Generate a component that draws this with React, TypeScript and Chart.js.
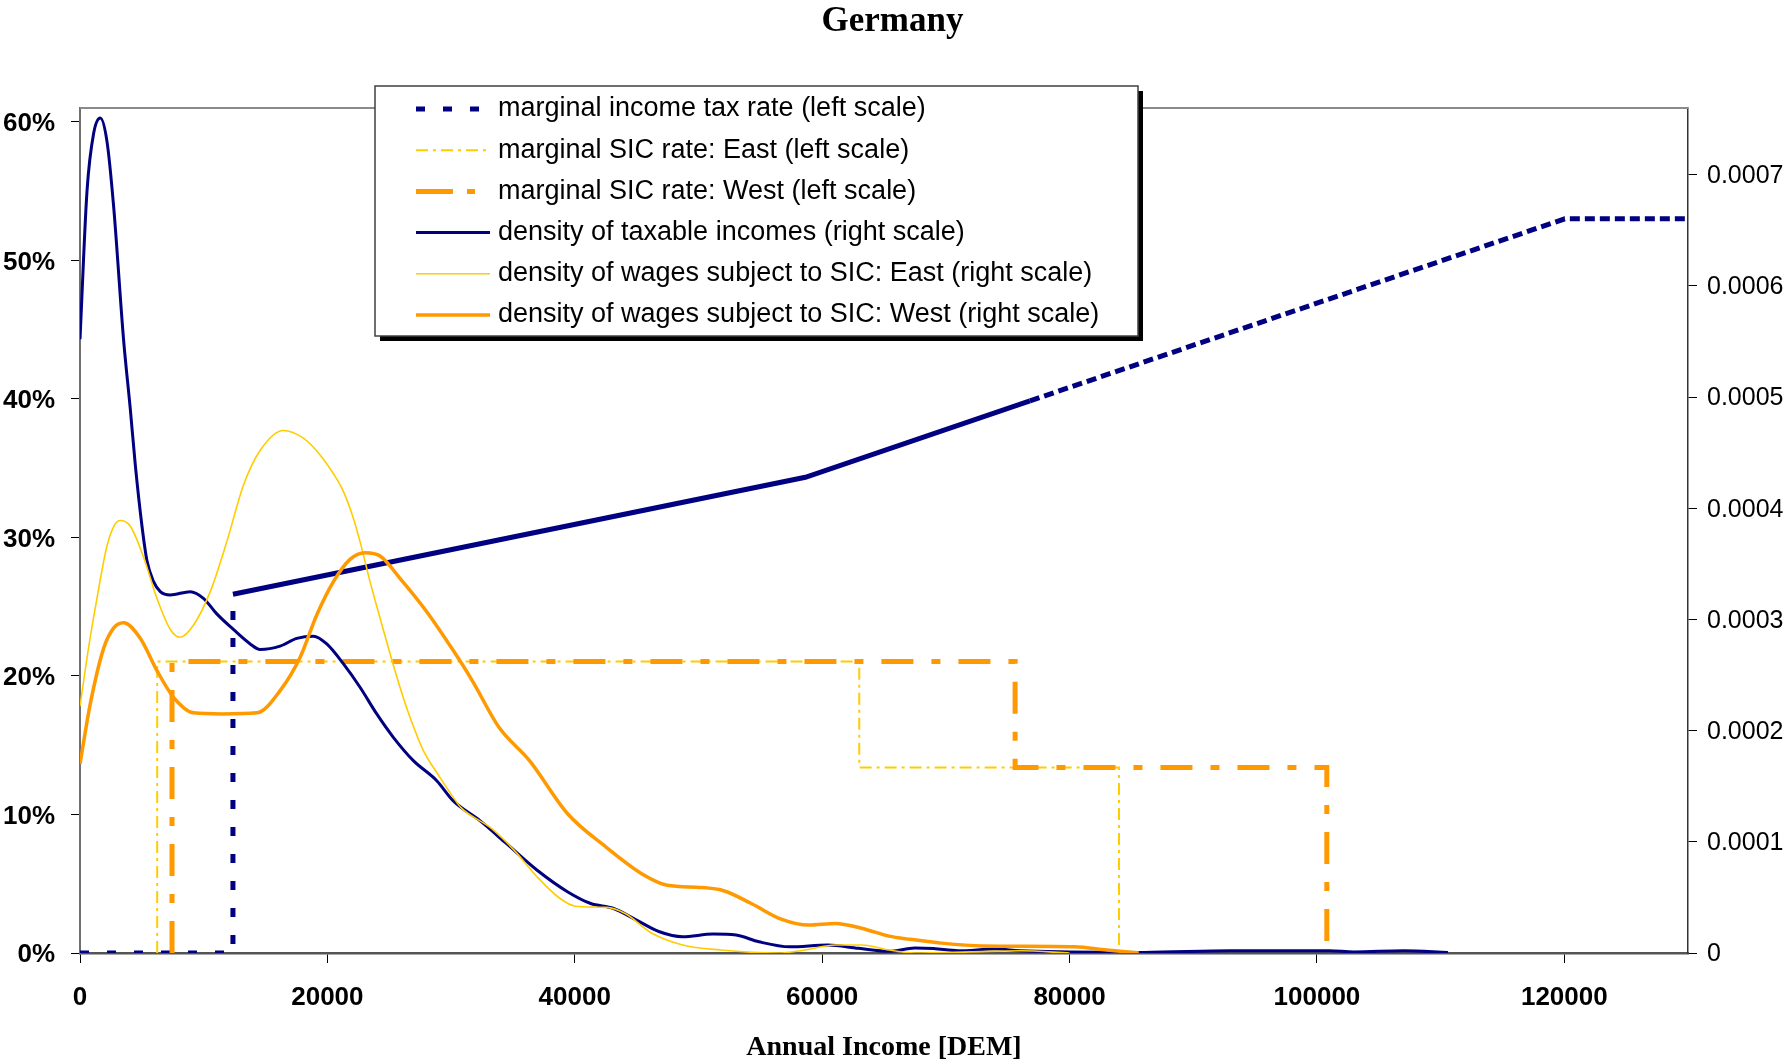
import React, { useEffect, useRef } from 'react';
import { Chart, registerables } from 'chart.js';

Chart.register(...registerables);

const CANVAS_W = 1785;
const CANVAS_H = 1060;

const chartTitle = 'Germany';
const xAxisTitle = 'Annual Income [DEM]';
const seriesLabels = [
  'marginal income tax rate (left scale)',
  'marginal SIC rate: East (left scale)',
  'marginal SIC rate: West (left scale)',
  'density of taxable incomes (right scale)',
  'density of wages subject to SIC: East (right scale)',
  'density of wages subject to SIC: West (right scale)',
];

const xTickValues = [0, 20000, 40000, 60000, 80000, 100000, 120000];
const leftTickValues = [0, 0.1, 0.2, 0.3, 0.4, 0.5, 0.6];
const rightTickValues = [0, 0.0001, 0.0002, 0.0003, 0.0004, 0.0005, 0.0006, 0.0007];

// marginal income tax rate (left scale)
const taxIncome = [0, 12365, 12365, 58643, 76800, 120041, 130000];
const taxRate = [0, 0, 0.259, 0.3434, 0.3986, 0.53, 0.53];

// marginal SIC rate East (left scale)
const sicEastIncome = [6240, 6240, 63000, 63000, 84000, 84000];
const sicEastRate = [0, 0.2105, 0.2105, 0.134, 0.134, 0];

// marginal SIC rate West (left scale)
const sicWestIncome = [7440, 7440, 75600, 75600, 100800, 100800];
const sicWestRate = [0, 0.2105, 0.2105, 0.134, 0.134, 0];

// density of taxable incomes (right scale)
const taxableIncome = [
  0, 565, 1100, 1640, 2180, 2715, 3520, 4060, 4470, 5010, 5410, 5950, 6490, 7300, 8910, 9980,
  11060, 12400, 13760, 14560, 16180, 17530, 18870, 19950, 21300, 22640, 23990, 25330, 26950,
  28840, 30160, 32330, 34490, 36960, 39440, 41290, 43140, 45000, 46850, 48710, 51180, 53040,
  54890, 57370, 60450, 62930, 65400, 67500, 69000, 71000, 74000, 76000, 80000, 86000, 93000,
  101000, 103000, 107000, 110600,
];
const taxableDensity = [
  0.000552, 0.000685, 0.000737, 0.000751, 0.00073, 0.000672, 0.000552, 0.00049, 0.000439,
  0.000384, 0.000353, 0.000334, 0.000325, 0.000322, 0.000325, 0.000319, 0.000305, 0.000291,
  0.000278, 0.000273, 0.000276, 0.000283, 0.000285, 0.000278, 0.00026, 0.000239, 0.000215,
  0.000194, 0.000173, 0.000155, 0.000137, 0.000119, 0.0000983, 0.0000744, 0.0000549,
  0.0000445, 0.00004, 0.0000296, 0.0000191, 0.0000146, 0.000017, 0.0000161, 0.0000101,
  0.0000056, 0.0000072, 0.0000042, 0.0000015, 0.0000045, 0.000004, 0.000002, 0.0000036,
  0.000002, 0.000001, 0.0000005, 0.000002, 0.000002, 0.000001, 0.000002, 0.0000005,
];

// density of wages subject to SIC: East (right scale)
const eastWage = [
  0, 700, 1370, 2180, 2800, 3260, 4060, 5140, 6220, 7300, 8100, 9180, 10530, 11870, 13220, 14560,
  16450, 18060, 19410, 20490, 21300, 22100, 22640, 23450, 24260, 25070, 25870, 26680, 27760,
  29100, 30180, 30780, 33260, 35110, 36960, 38810, 40050, 42530, 44070, 46240, 48710, 51800,
  56440, 58600, 61080, 63240, 65400, 67500, 72000, 76000, 80000,
];
const eastDensity = [
  0.000222, 0.000275, 0.000319, 0.000366, 0.000385, 0.000389, 0.000384, 0.000356, 0.000319,
  0.000291, 0.000284, 0.000295, 0.000325, 0.00037, 0.000421, 0.000452, 0.00047, 0.000463,
  0.000448, 0.000431, 0.000415, 0.000391, 0.00037, 0.000334, 0.000301, 0.000269, 0.000239,
  0.000212, 0.000182, 0.000158, 0.00014, 0.000131, 0.000112, 0.0000923, 0.0000684, 0.000049,
  0.0000421, 0.000041, 0.0000356, 0.0000177, 0.0000072, 0.0000027, 0, 0.0000027, 0.0000072,
  0.0000072, 0.0000027, 0, 0.000001, 0.000002, 0,
];

// density of wages subject to SIC: West (right scale)
const westWage = [
  0, 830, 1910, 2700, 3520, 4870, 6220, 7560, 9180, 11500, 14320, 16180, 17800, 19140, 20490,
  21830, 23050, 24260, 25870, 28030, 30180, 31710, 33870, 36340, 39440, 42530, 45620, 47470,
  50250, 52100, 54270, 56740, 58910, 61080, 63240, 65400, 67100, 69370, 72940, 80400, 83000,
  85600,
];
const westDensity = [
  0.00017, 0.000224, 0.000274, 0.000292, 0.000297, 0.000283, 0.000254, 0.00023, 0.000216,
  0.000215, 0.000216, 0.000236, 0.000266, 0.000304, 0.000334, 0.000354, 0.00036, 0.000357,
  0.000337, 0.000307, 0.000272, 0.000245, 0.000203, 0.000173, 0.000125, 0.0000953, 0.0000699,
  0.0000609, 0.0000589, 0.0000558, 0.0000445, 0.0000302, 0.0000251, 0.0000266, 0.0000221,
  0.0000152, 0.0000123, 0.0000092, 0.0000063, 0.0000056, 0.0000027, 0,
];

const NAVY = '#000080';
const GOLD = '#FFCC00';
const ORANGE = '#FF9900';
const SANS = '"Liberation Sans", Arial, sans-serif';
const SERIF = '"Liberation Serif", "Times New Roman", serif';

const TAX_SOLID_END = 76800;
const TAX_SPARSE_DASH = [9, 18];
const TAX_DENSE_DASH = [10, 5];

const toPoints = (xs: number[], ys: number[]) => xs.map((x, i) => ({ x, y: ys[i] }));

const legendDash: number[][] = [[9, 18], [12, 5, 3, 5], [37, 14, 8, 30], [], [], []];

const frameAndLegendPlugin = {
  id: 'frameAndLegend',
  beforeDatasetsDraw(chart: any) {
    const { ctx, chartArea } = chart;
    ctx.save();
    ctx.strokeStyle = '#8a8a8a';
    ctx.lineWidth = 2;
    ctx.beginPath();
    ctx.moveTo(chartArea.left, chartArea.top);
    ctx.lineTo(chartArea.right, chartArea.top);
    ctx.stroke();
    ctx.restore();
  },
  afterDraw(chart: any) {
    const ctx = chart.ctx;
    const bx = 375;
    const by = 86;
    const bw = 763;
    const bh = 250;
    ctx.save();
    ctx.fillStyle = '#000';
    ctx.fillRect(bx + 5, by + 5, bw, bh);
    ctx.fillStyle = '#fff';
    ctx.fillRect(bx, by, bw, bh);
    ctx.strokeStyle = '#404040';
    ctx.lineWidth = 1.5;
    ctx.strokeRect(bx, by, bw, bh);
    chart.data.datasets.forEach((ds: any, i: number) => {
      const y = by + 23 + i * 41.2;
      ctx.save();
      ctx.beginPath();
      ctx.setLineDash(legendDash[i]);
      ctx.strokeStyle = ds.borderColor;
      ctx.lineWidth = ds.borderWidth;
      ctx.moveTo(bx + 41, y);
      ctx.lineTo(bx + 115, y);
      ctx.stroke();
      ctx.restore();
      ctx.fillStyle = '#000';
      ctx.font = `27px ${SANS}`;
      ctx.textBaseline = 'middle';
      ctx.textAlign = 'left';
      ctx.fillText(ds.label, bx + 123, y);
    });
    ctx.restore();
  },
};

export default function App() {
  const canvasRef = useRef<HTMLCanvasElement | null>(null);

  useEffect(() => {
    document.body.style.margin = '0';
    const canvas = canvasRef.current;
    if (!canvas) return;

    const chart = new Chart(canvas, {
      type: 'line',
      data: {
        datasets: [
          {
            label: seriesLabels[0],
            data: toPoints(taxIncome, taxRate),
            borderColor: NAVY,
            borderWidth: 5,
            yAxisID: 'y',
            order: 5,
            tension: 0,
            segment: {
              borderDash: (c: any) => {
                const x0 = c.p0.parsed.x;
                const y0 = c.p0.parsed.y;
                const x1 = c.p1.parsed.x;
                if (y0 > 0 && x1 <= TAX_SOLID_END) return [];
                if (x0 >= TAX_SOLID_END) return TAX_DENSE_DASH;
                return TAX_SPARSE_DASH;
              },
            },
          },
          {
            label: seriesLabels[1],
            data: toPoints(sicEastIncome, sicEastRate),
            borderColor: GOLD,
            borderWidth: 2,
            borderDash: [12, 5, 3, 5],
            yAxisID: 'y',
            order: 4,
            tension: 0,
          },
          {
            label: seriesLabels[2],
            data: toPoints(sicWestIncome, sicWestRate),
            borderColor: ORANGE,
            borderWidth: 5,
            borderDash: [32, 18, 9, 18],
            yAxisID: 'y',
            order: 3,
            tension: 0,
          },
          {
            label: seriesLabels[3],
            data: toPoints(taxableIncome, taxableDensity),
            borderColor: NAVY,
            borderWidth: 3,
            yAxisID: 'y1',
            order: 2,
            cubicInterpolationMode: 'monotone',
            borderJoinStyle: 'round',
          },
          {
            label: seriesLabels[4],
            data: toPoints(eastWage, eastDensity),
            borderColor: GOLD,
            borderWidth: 1.6,
            yAxisID: 'y1',
            order: 1,
            cubicInterpolationMode: 'monotone',
            borderJoinStyle: 'round',
          },
          {
            label: seriesLabels[5],
            data: toPoints(westWage, westDensity),
            borderColor: ORANGE,
            borderWidth: 3.5,
            yAxisID: 'y1',
            order: 0,
            cubicInterpolationMode: 'monotone',
            borderJoinStyle: 'round',
          },
        ] as any,
      },
      options: {
        responsive: false,
        animation: false,
        events: [],
        elements: { point: { radius: 0 }, line: { fill: false } },
        layout: { padding: 0 },
        plugins: {
          legend: { display: false },
          tooltip: { enabled: false },
          title: {
            display: true,
            text: chartTitle,
            color: '#000',
            font: { family: SERIF, size: 35, weight: 'bold', lineHeight: 1 },
            padding: { top: 4, bottom: 69 },
          },
        },
        scales: {
          x: {
            type: 'linear',
            min: 0,
            max: 130000,
            afterBuildTicks: (s: any) => {
              s.ticks = xTickValues.map((v) => ({ value: v }));
            },
            afterFit: (s: any) => {
              s.height = 107;
            },
            ticks: {
              autoSkip: false,
              maxRotation: 0,
              color: '#000',
              padding: 19,
              font: { family: SANS, size: 26, weight: 'bold', lineHeight: 1.2 },
              callback: (v: any) => String(v),
            },
            grid: {
              display: true,
              drawOnChartArea: false,
              drawTicks: true,
              tickLength: 10,
              tickColor: '#000',
              color: '#000',
            },
            border: { display: true, color: '#555', width: 2.5 },
            title: {
              display: true,
              text: xAxisTitle,
              color: '#000',
              font: { family: SERIF, size: 28, weight: 'bold', lineHeight: 0.9 },
              padding: { top: 0, bottom: 0 },
            },
          },
          y: {
            type: 'linear',
            position: 'left',
            min: 0,
            max: 0.61,
            afterBuildTicks: (s: any) => {
              s.ticks = leftTickValues.map((v) => ({ value: v }));
            },
            afterFit: (s: any) => {
              s.width = 80;
            },
            ticks: {
              color: '#000',
              padding: 16,
              labelOffset: 2,
              font: { family: SANS, size: 26, weight: 'bold' },
              callback: (v: any) => `${Math.round(Number(v) * 100)}%`,
            },
            grid: {
              display: true,
              drawOnChartArea: false,
              drawTicks: true,
              tickLength: 9,
              tickColor: '#000',
              color: '#000',
            },
            border: { display: true, color: '#707070', width: 2 },
          },
          y1: {
            type: 'linear',
            position: 'right',
            min: 0,
            max: 0.00076,
            afterBuildTicks: (s: any) => {
              s.ticks = rightTickValues.map((v) => ({ value: v }));
            },
            afterFit: (s: any) => {
              s.width = 97;
            },
            ticks: {
              color: '#000',
              padding: 10,
              labelOffset: 1.5,
              font: { family: SANS, size: 25 },
              callback: (v: any) => (Number(v) === 0 ? '0' : Number(v).toFixed(4)),
            },
            grid: {
              display: true,
              drawOnChartArea: false,
              drawTicks: true,
              tickLength: 9,
              tickColor: '#000',
              color: '#000',
            },
            border: { display: true, color: '#333', width: 1.5 },
          },
        },
      } as any,
      plugins: [frameAndLegendPlugin],
    });

    return () => {
      chart.destroy();
    };
  }, []);

  return (
    <div style={{ width: CANVAS_W, height: CANVAS_H, background: '#fff' }}>
      <canvas
        ref={canvasRef}
        width={CANVAS_W}
        height={CANVAS_H}
        style={{ display: 'block', width: CANVAS_W, height: CANVAS_H }}
      />
    </div>
  );
}
